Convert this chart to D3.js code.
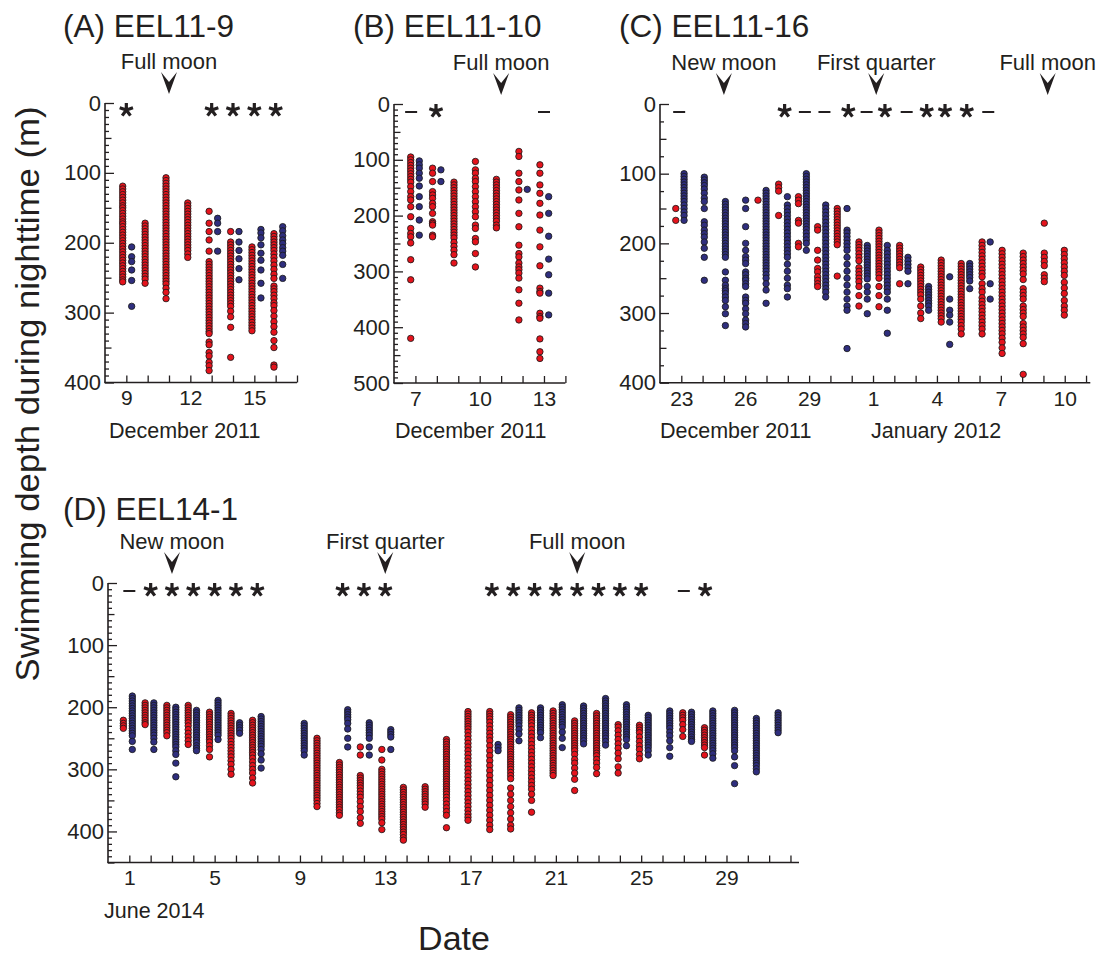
<!DOCTYPE html>
<html><head><meta charset="utf-8">
<script src="https://cdn.jsdelivr.net/npm/d3@7"></script>
<style>
body{margin:0;background:#fff}
svg{display:block}
text{font-family:"Liberation Sans",Arial,Helvetica,sans-serif;fill:#231f20}
</style>
</head><body>
<svg id="chart" width="1102" height="958"></svg>
<script>
// ---------------- DATA ----------------
// Each night: x = date (day of month, fractional), c = r (before midnight) / b (after midnight), d = depths (m)
const nightsA = [
 {x:8.83,c:'r',d:[119,123,127,131,135,139,143,147,150,154,158,162,166,170,173,177,181,185,189,193,197,201,205,209,213,217,221,225,229,233,237,241,245,249,253,256]},
 {x:9.25,c:'b',d:[206,220,227,239,254,291]},
 {x:9.88,c:'r',d:[172,176,180,184,188,192,196,200,204,208,212,216,220,224,228,232,236,240,244,248,252,258]},
 {x:10.86,c:'r',d:[107,111,115,119,123,127,131,135,139,143,147,151,155,159,163,167,171,175,179,183,187,191,195,199,203,207,211,215,219,223,227,231,235,239,243,247,251,255,259,265,271,280]},
 {x:11.88,c:'r',d:[143,147,151,155,159,163,167,171,175,179,183,187,191,195,199,203,207,211,216,221]},
 {x:12.88,c:'r',d:[155,172,184,196,212,227,231,235,239,243,247,251,255,259,263,267,271,275,279,283,287,291,295,299,303,307,311,315,319,323,327,330,342,346,357,362,371,376,383]},
 {x:13.28,c:'b',d:[165,172,184,212]},
 {x:13.89,c:'r',d:[184,199,203,207,211,215,219,223,227,231,235,239,243,247,251,255,259,263,267,271,275,279,283,287,291,298,306,321,364]},
 {x:14.28,c:'b',d:[184,199,211,223,237,253]},
 {x:14.89,c:'r',d:[206,210,214,218,222,226,230,234,238,242,246,250,254,258,262,266,270,274,278,282,286,290,294,298,302,306,310,314,318,322,326]},
 {x:15.31,c:'b',d:[181,186,193,203,215,225,239,258,279]},
 {x:15.92,c:'r',d:[187,191,195,199,203,207,211,216,221,226,232,238,245,251,262,266,270,275,280,286,290,297,305,313,320,328,340,350,375,378]},
 {x:16.33,c:'b',d:[177,183,190,196,201,207,212,218,231,251]}
];
const nightsB = [
 {x:6.78,c:'r',d:[95,100,105,110,115,120,125,130,135,140,148,157,166,172,184,202,223,232,238,249,279,315,420]},
 {x:7.18,c:'b',d:[102,109,115,124,133,147,166,184,208,235]},
 {x:7.8,c:'r',d:[115,124,139,157,163,169,178,184,196,211,214,217,235,238]},
 {x:8.19,c:'b',d:[118,139]},
 {x:8.8,c:'r',d:[140,145,150,155,160,165,170,175,180,185,190,195,200,205,210,215,220,225,230,235,240,248,255,262,270,285]},
 {x:9.8,c:'r',d:[103,118,124,133,139,148,157,166,175,184,193,202,217,223,241,247,268,292]},
 {x:10.78,c:'r',d:[135,140,145,150,155,160,165,170,175,180,185,190,195,200,205,210,217,222]},
 {x:11.83,c:'r',d:[85,94,124,139,154,172,196,220,253,268,274,285,292,297,303,312,333,357,387]},
 {x:12.22,c:'b',d:[153]},
 {x:12.81,c:'r',d:[109,124,145,160,178,199,226,256,290,330,336,339,375,381,384,421,444,456]},
 {x:13.22,c:'b',d:[166,196,237,278,306,339,378]}
];
// Panel C: x = day counted from 1 December 2011 (32 = 1 January 2012)
const nightsC = [
 {x:22.74,c:'r',d:[150,167]},
 {x:23.13,c:'b',d:[100,104,108,112,116,120,124,128,132,136,140,145,150,155,160,167]},
 {x:24.08,c:'b',d:[105,109,113,117,122,128,135,140,150,169,174,181,186,191,198,207,220,253]},
 {x:25.07,c:'b',d:[140,144,148,152,156,160,164,168,172,176,180,184,188,192,196,200,204,208,212,216,220,241,253,260,265,268,272,277,282,291,301,318]},
 {x:26.02,c:'b',d:[138,150,176,200,210,219,224,229,241,245,250,253,258,262,277,282,286,294,301,310,315,320]},
 {x:26.6,c:'r',d:[138]},
 {x:26.98,c:'b',d:[124,128,132,136,140,144,148,152,156,160,164,168,172,176,180,184,188,192,196,200,204,208,212,216,220,224,228,232,236,240,245,250,258,267,286]},
 {x:27.57,c:'r',d:[115,120,125,160]},
 {x:27.98,c:'b',d:[133,145,150,155,160,165,170,175,180,185,190,195,200,205,210,215,220,230,240,250,260,265,277]},
 {x:28.5,c:'r',d:[133,138,143,167,171,200,205]},
 {x:28.87,c:'b',d:[100,104,108,112,116,120,124,128,132,136,140,144,148,152,156,160,164,168,172,176,180,185,190,195,200,210]},
 {x:29.4,c:'r',d:[176,181,210,224,236,241,248,253,258,262]},
 {x:29.78,c:'b',d:[145,150,155,160,165,170,175,180,185,190,195,200,205,210,215,220,225,230,235,240,245,250,255,260,265,270,277]},
 {x:30.32,c:'r',d:[150,154,158,162,166,170,174,178,182,186,190,194,198,202,247]},
 {x:30.78,c:'b',d:[150,181,185,190,195,200,205,210,220,230,240,250,260,270,280,290,296,351]},
 {x:31.34,c:'r',d:[198,202,206,210,215,220,225,235,240,245,250,255,262,275,290]},
 {x:31.73,c:'b',d:[203,207,211,215,219,223,227,231,235,239,243,247,251,262,270,280,301]},
 {x:32.28,c:'r',d:[181,185,189,193,197,201,205,209,213,217,221,225,229,233,237,241,245,250,262,275,291]},
 {x:32.67,c:'b',d:[203,210,215,220,225,230,235,240,245,250,255,260,265,270,280,296,329]},
 {x:33.25,c:'r',d:[203,207,211,215,219,223,227,231,235,258]},
 {x:33.64,c:'b',d:[220,225,230,235,240,258]},
 {x:34.24,c:'r',d:[234,238,242,246,250,254,258,262,266,270,274,280,290,300,308]},
 {x:34.61,c:'b',d:[262,266,270,274,278,282,286,290,296]},
 {x:35.2,c:'r',d:[224,228,232,236,240,244,248,252,256,260,264,268,272,276,280,284,288,292,296,300,304,308,313]},
 {x:35.6,c:'b',d:[248,280,296,303,313,345]},
 {x:36.14,c:'r',d:[229,233,237,241,245,249,253,257,261,265,269,273,277,281,285,289,293,297,301,305,309,313,318,323,330]},
 {x:36.54,c:'b',d:[229,233,237,241,245,249,254,265]},
 {x:37.12,c:'r',d:[198,203,208,213,218,223,228,233,238,243,248,258,265,270,278,283,288,293,298,303,308,313,318,323,330]},
 {x:37.5,c:'b',d:[198,258,280]},
 {x:38.06,c:'r',d:[210,215,220,225,230,235,240,245,250,255,260,265,270,275,280,285,290,295,300,305,310,315,320,325,330,336,342,350,358]},
 {x:39.05,c:'r',d:[214,219,224,229,234,239,244,252,265,270,275,280,290,295,300,305,315,320,325,330,335,344,388]},
 {x:40.04,c:'r',d:[171,214,220,226,232,245,250,255]},
 {x:40.98,c:'r',d:[210,216,222,228,234,240,246,256,264,272,282,290,296,303]}
];
const nightsD = [
 {x:0.72,c:'r',d:[221,226,230,234]},
 {x:1.14,c:'b',d:[182,186,190,194,198,202,206,210,214,218,222,226,230,234,238,242,246,255,268]},
 {x:1.74,c:'r',d:[193,197,201,205,209,213,217,221,225,228]},
 {x:2.15,c:'b',d:[193,197,201,205,209,213,217,221,225,229,233,237,241,245,250,256,268]},
 {x:2.76,c:'r',d:[197,201,205,209,213,217,221,225,229,233,237,241,246]},
 {x:3.18,c:'b',d:[200,204,208,212,216,220,224,228,232,236,240,244,248,252,256,260,264,270,276,290,312]},
 {x:3.76,c:'r',d:[197,201,205,209,213,217,221,225,230,236,242,248,254,260]},
 {x:4.15,c:'b',d:[205,209,213,217,221,225,229,233,237,241,245,249,253,257,262,266,270]},
 {x:4.76,c:'r',d:[208,212,216,220,224,228,232,236,240,244,248,252,256,262,268,280]},
 {x:5.16,c:'b',d:[189,193,197,201,205,209,213,217,221,225,229,233,237,241,245,252]},
 {x:5.77,c:'r',d:[210,214,218,222,226,230,234,238,242,246,250,255,260,265,270,275,280,286,292,300,308]},
 {x:6.17,c:'b',d:[225,229,233,237,242]},
 {x:6.78,c:'r',d:[221,225,229,233,237,241,245,249,253,257,261,265,269,273,277,282,288,294,300,306,314,322]},
 {x:7.18,c:'b',d:[215,219,223,227,231,235,239,243,247,251,255,259,263,268,275,285,298]},
 {x:9.2,c:'b',d:[226,230,234,238,242,246,250,254,258,262,266,270,277]},
 {x:9.8,c:'r',d:[250,254,258,262,266,270,274,278,282,286,290,294,298,302,306,310,314,318,322,326,330,334,338,342,346,350,355,360]},
 {x:10.85,c:'r',d:[289,293,297,301,305,309,313,317,321,325,329,333,337,341,345,349,353,357,361,365,370,374]},
 {x:11.24,c:'b',d:[204,208,212,216,220,226,235,250,264]},
 {x:11.83,c:'r',d:[264,277,310,314,318,322,326,330,335,340,345,352,360,368,378,387]},
 {x:12.25,c:'b',d:[225,229,233,237,241,245,250,264,277]},
 {x:12.84,c:'r',d:[268,285,300,304,308,312,316,320,324,328,332,336,340,344,348,352,356,360,364,368,372,376,380,386,397]},
 {x:13.26,c:'b',d:[236,240,244,248,268]},
 {x:13.85,c:'r',d:[329,333,337,341,345,349,353,357,361,365,369,373,377,381,385,389,393,397,401,405,410,414]},
 {x:14.87,c:'r',d:[328,332,336,340,344,348,352,356,361]},
 {x:15.87,c:'r',d:[252,256,260,264,268,272,276,280,284,288,292,296,300,304,308,312,316,320,324,328,332,336,340,345,350,356,362,368,374,394]},
 {x:16.88,c:'r',d:[207,211,215,219,223,227,231,235,240,246,252,258,264,270,276,282,288,294,300,306,312,318,324,330,336,342,348,354,360,366,372,377,382]},
 {x:17.9,c:'r',d:[207,211,215,219,224,230,236,242,248,254,262,270,278,286,294,302,310,318,326,334,342,350,358,366,374,382,390,397]},
 {x:18.29,c:'b',d:[260,265,270]},
 {x:18.88,c:'r',d:[212,216,220,224,228,232,236,240,244,248,252,256,260,264,268,272,276,280,284,288,292,296,300,305,310,315,330,340,350,360,370,380,390,396]},
 {x:19.27,c:'b',d:[201,205,209,213,217,221,225,230,236,243,254]},
 {x:19.86,c:'r',d:[209,213,217,221,225,230,236,242,248,254,260,266,272,278,284,290,296,302,308,314,320,326,332,340,350,369]},
 {x:20.28,c:'b',d:[201,205,209,213,217,221,225,229,233,237,241,249]},
 {x:20.87,c:'r',d:[206,210,214,218,222,226,230,234,238,242,246,250,254,258,262,266,270,274,278,282,286,290,294,298,302,306,310]},
 {x:21.3,c:'b',d:[196,200,204,208,212,216,220,224,228,232,240,250,265]},
 {x:21.88,c:'r',d:[222,226,230,234,238,242,246,250,254,258,262,266,270,276,284,290,298,306,316,334]},
 {x:22.3,c:'b',d:[198,202,206,210,214,218,222,226,230,234,238,242,246,250,254,259]},
 {x:22.91,c:'r',d:[210,214,218,222,226,230,234,238,242,246,250,254,258,262,266,270,274,278,284,290,297,307]},
 {x:23.33,c:'b',d:[186,190,194,198,202,206,210,214,218,222,226,230,234,238,242,246,250,255,261]},
 {x:23.92,c:'r',d:[228,232,238,245,252,259,266,274,283,296,306]},
 {x:24.31,c:'b',d:[196,200,204,208,212,216,220,224,228,232,236,240,244,248,252,262]},
 {x:24.92,c:'r',d:[229,233,237,241,248,255,262,268,276,283]},
 {x:25.33,c:'b',d:[213,217,221,225,229,233,237,241,245,249,253,257,261,265,270,277]},
 {x:26.34,c:'b',d:[206,210,214,218,222,226,230,234,240,246,254,265,279]},
 {x:26.95,c:'r',d:[209,213,217,221,228,236,247]},
 {x:27.36,c:'b',d:[208,212,216,220,224,228,232,236,240,244,248,252,255]},
 {x:27.97,c:'r',d:[233,237,241,245,249,253,257,261,265,277]},
 {x:28.36,c:'b',d:[206,210,214,218,222,226,230,234,238,242,246,250,254,258,262,266,270,275,282]},
 {x:29.38,c:'b',d:[205,209,213,217,221,225,229,233,237,241,245,249,253,257,261,265,270,280,294,323]},
 {x:30.4,c:'b',d:[218,222,226,230,234,238,242,246,250,254,258,262,266,270,274,278,282,286,290,294,299,304]},
 {x:31.42,c:'b',d:[209,213,217,221,225,229,233,237,241]}
];
// significance markers: '*' or '-'
const marksA = [{x:9,s:'*'},{x:13,s:'*'},{x:14,s:'*'},{x:15,s:'*'},{x:16,s:'*'}];
const marksB = [{x:6.8,s:'-'},{x:7.96,s:'*'},{x:13,s:'-'}];
const marksC = [{x:22.9,s:'-'},{x:27.85,s:'*'},{x:28.8,s:'-'},{x:29.72,s:'-'},{x:30.84,s:'*'},{x:31.7,s:'-'},{x:32.56,s:'*'},{x:33.58,s:'-'},{x:34.52,s:'*'},{x:35.38,s:'*'},{x:36.4,s:'*'},{x:37.41,s:'-'}];
const marksD = [{x:1,s:'-'},{x:2,s:'*'},{x:3,s:'*'},{x:4,s:'*'},{x:5,s:'*'},{x:6,s:'*'},{x:7,s:'*'},
 {x:11,s:'*'},{x:12,s:'*'},{x:13,s:'*'},
 {x:18,s:'*'},{x:19,s:'*'},{x:20,s:'*'},{x:21,s:'*'},{x:22,s:'*'},{x:23,s:'*'},{x:24,s:'*'},{x:25,s:'*'},
 {x:27,s:'-'},{x:28,s:'*'}];
// moon phases
const moonsA = [{x:11,t:'Full moon'}];
const moonsB = [{x:11,t:'Full moon'}];
const moonsC = [{x:25,t:'New moon'},{x:32.15,t:'First quarter'},{x:40.2,t:'Full moon'}];
const moonsD = [{x:3,t:'New moon'},{x:13,t:'First quarter'},{x:22,t:'Full moon'}];
// tick labels
const xLabA = {9:'9',12:'12',15:'15'};
const xLabB = {7:'7',10:'10',13:'13'};
const xLabC = {23:'23',26:'26',29:'29',32:'1',35:'4',38:'7',41:'10'};
const xLabD = {1:'1',5:'5',9:'9',13:'13',17:'17',21:'21',25:'25',29:'29'};
const titles = ['(A) EEL11-9','(B) EEL11-10','(C) EEL11-16','(D) EEL14-1'];

// ---------------- DRAWING ----------------
const svg = d3.select('#chart');
const RED = '#e5131c', BLUE = '#2f2e7e', INK = '#231f20';
const FONT = '"Liberation Sans",Arial,Helvetica,sans-serif';

function starPath(r){
  let p='';
  for(let i=0;i<5;i++){
    const a = i*2*Math.PI/5;
    p += `M0,0L${(r*Math.sin(a)).toFixed(2)},${(-r*Math.cos(a)).toFixed(2)}`;
  }
  return p;
}

function panel(p){
  const g = svg.append('g');
  const x = d3.scaleLinear().domain(p.xDomain).range(p.xRange);
  const y = d3.scaleLinear().domain(p.yDomain).range(p.yRange);
  const x0 = p.xRange[0];
  const yMax = p.yDomain[1];

  // y axis: minor / medium / major ticks (inward)
  const allT = d3.range(0, yMax + 0.001, p.yStep);
  const minorT = allT.filter(v => v % 50 !== 0);
  const medT = allT.filter(v => v % 50 === 0 && v % 100 !== 0);
  const majT = allT.filter(v => v % 100 === 0);
  const mk = (vals, len, lab) => {
    const ax = g.append('g').attr('transform', `translate(${x0},0)`)
      .call(d3.axisLeft(y).tickValues(vals).tickSize(-len).tickSizeOuter(0)
        .tickPadding(4).tickFormat(lab ? d3.format('d') : ''));
    ax.attr('font-family', FONT).attr('font-size', 22);
    ax.selectAll('line').attr('stroke', INK).attr('stroke-width', 1.3);
    ax.selectAll('text').attr('fill', INK);
    ax.select('.domain').remove();
  };
  mk(minorT, 4, false);
  mk(medT, 6.5, false);
  mk(majT, 9, true);

  // x axis
  const days = d3.range(Math.floor(p.xDomain[0]) + 1, p.xDomain[1] + 0.001, 1);
  const xa = g.append('g').attr('transform', `translate(0,${p.yRange[1]})`)
    .call(d3.axisBottom(x).tickValues(days).tickSize(-7).tickSizeOuter(0)
      .tickPadding(8).tickFormat(d => p.xLab[d] || ''));
  xa.attr('font-family', FONT).attr('font-size', 21);
  xa.selectAll('line').attr('stroke', INK).attr('stroke-width', 1.3);
  xa.selectAll('text').attr('fill', INK);
  xa.select('.domain').remove();

  // axis lines
  g.append('line').attr('x1', x0).attr('x2', x0).attr('y1', y(0)).attr('y2', y(yMax))
    .attr('stroke', INK).attr('stroke-width', 1.6);
  g.append('line').attr('x1', x0 - 0.8).attr('x2', x(p.xDomain[1])).attr('y1', y(yMax)).attr('y2', y(yMax))
    .attr('stroke', INK).attr('stroke-width', 1.6);

  // points
  const pts = [];
  p.nights.forEach(n => n.d.forEach(v => pts.push({x: n.x, c: n.c, v})));
  g.append('g').selectAll('circle').data(pts).join('circle')
    .attr('cx', d => x(d.x)).attr('cy', d => y(d.v)).attr('r', 3.2)
    .attr('fill', d => d.c === 'r' ? RED : BLUE)
    .attr('stroke', '#1b1b1b').attr('stroke-width', 0.85);

  // markers
  const my = y(0) + 8;
  const mg = g.append('g');
  p.marks.forEach(m => {
    if (m.s === '*') {
      mg.append('path').attr('d', starPath(7)).attr('transform', `translate(${x(m.x)},${my - 1})`)
        .attr('stroke', INK).attr('stroke-width', 3.2).attr('fill', 'none');
    } else {
      mg.append('line').attr('x1', x(m.x) - 6).attr('x2', x(m.x) + 6).attr('y1', my).attr('y2', my)
        .attr('stroke', INK).attr('stroke-width', 2);
    }
  });

  // moon arrows
  p.moons.forEach(m => {
    const cx = x(m.x), top = y(0) - 31;
    g.append('path').attr('d', `M${cx - 8},${top}L${cx},${top + 10}L${cx + 8},${top}L${cx},${top + 22}Z`)
      .attr('fill', INK);
    g.append('text').attr('x', cx).attr('y', y(0) - 34).attr('text-anchor', 'middle')
      .attr('font-size', 22).text(m.t);
  });

  // title
  g.append('text').attr('x', p.titleX).attr('y', p.titleY).attr('font-size', 31.5).text(p.title);

  // month labels
  p.months.forEach(m => {
    g.append('text').attr('x', m.x).attr('y', p.yRange[1] + 55).attr('font-size', 21.5).text(m.t);
  });
}

panel({nights: nightsA, marks: marksA, moons: moonsA, xLab: xLabA, title: titles[0],
  xDomain: [8, 17], xRange: [105, 297], yDomain: [0, 400], yRange: [103, 382.5], yStep: 10,
  titleX: 63, titleY: 37, months: [{x: 109, t: 'December 2011'}]});
panel({nights: nightsB, marks: marksB, moons: moonsB, xLab: xLabB, title: titles[1],
  xDomain: [6, 14], xRange: [394, 565.4], yDomain: [0, 500], yRange: [104, 383], yStep: 10,
  titleX: 353, titleY: 37, months: [{x: 395, t: 'December 2011'}]});
panel({nights: nightsC, marks: marksC, moons: moonsC, xLab: xLabC, title: titles[2],
  xDomain: [22, 42.2], xRange: [660, 1090.3], yDomain: [0, 400], yRange: [104, 382.7], yStep: 25,
  titleX: 619, titleY: 37, months: [{x: 660, t: 'December 2011'}, {x: 871, t: 'January 2012'}]});
panel({nights: nightsD, marks: marksD, moons: moonsD, xLab: xLabD, title: titles[3],
  xDomain: [0, 32.4], xRange: [108, 799], yDomain: [0, 450], yRange: [583, 862.5], yStep: 10,
  titleX: 63, titleY: 520, months: [{x: 104, t: 'June 2014'}]});

// axis titles
svg.append('text').attr('transform', 'translate(39,394) rotate(-90)').attr('text-anchor', 'middle')
  .attr('font-size', 34).attr('textLength', 575).attr('lengthAdjust', 'spacingAndGlyphs')
  .text('Swimming depth during nighttime (m)');
svg.append('text').attr('x', 454).attr('y', 950).attr('text-anchor', 'middle')
  .attr('font-size', 34).text('Date');
</script>
</body></html>
